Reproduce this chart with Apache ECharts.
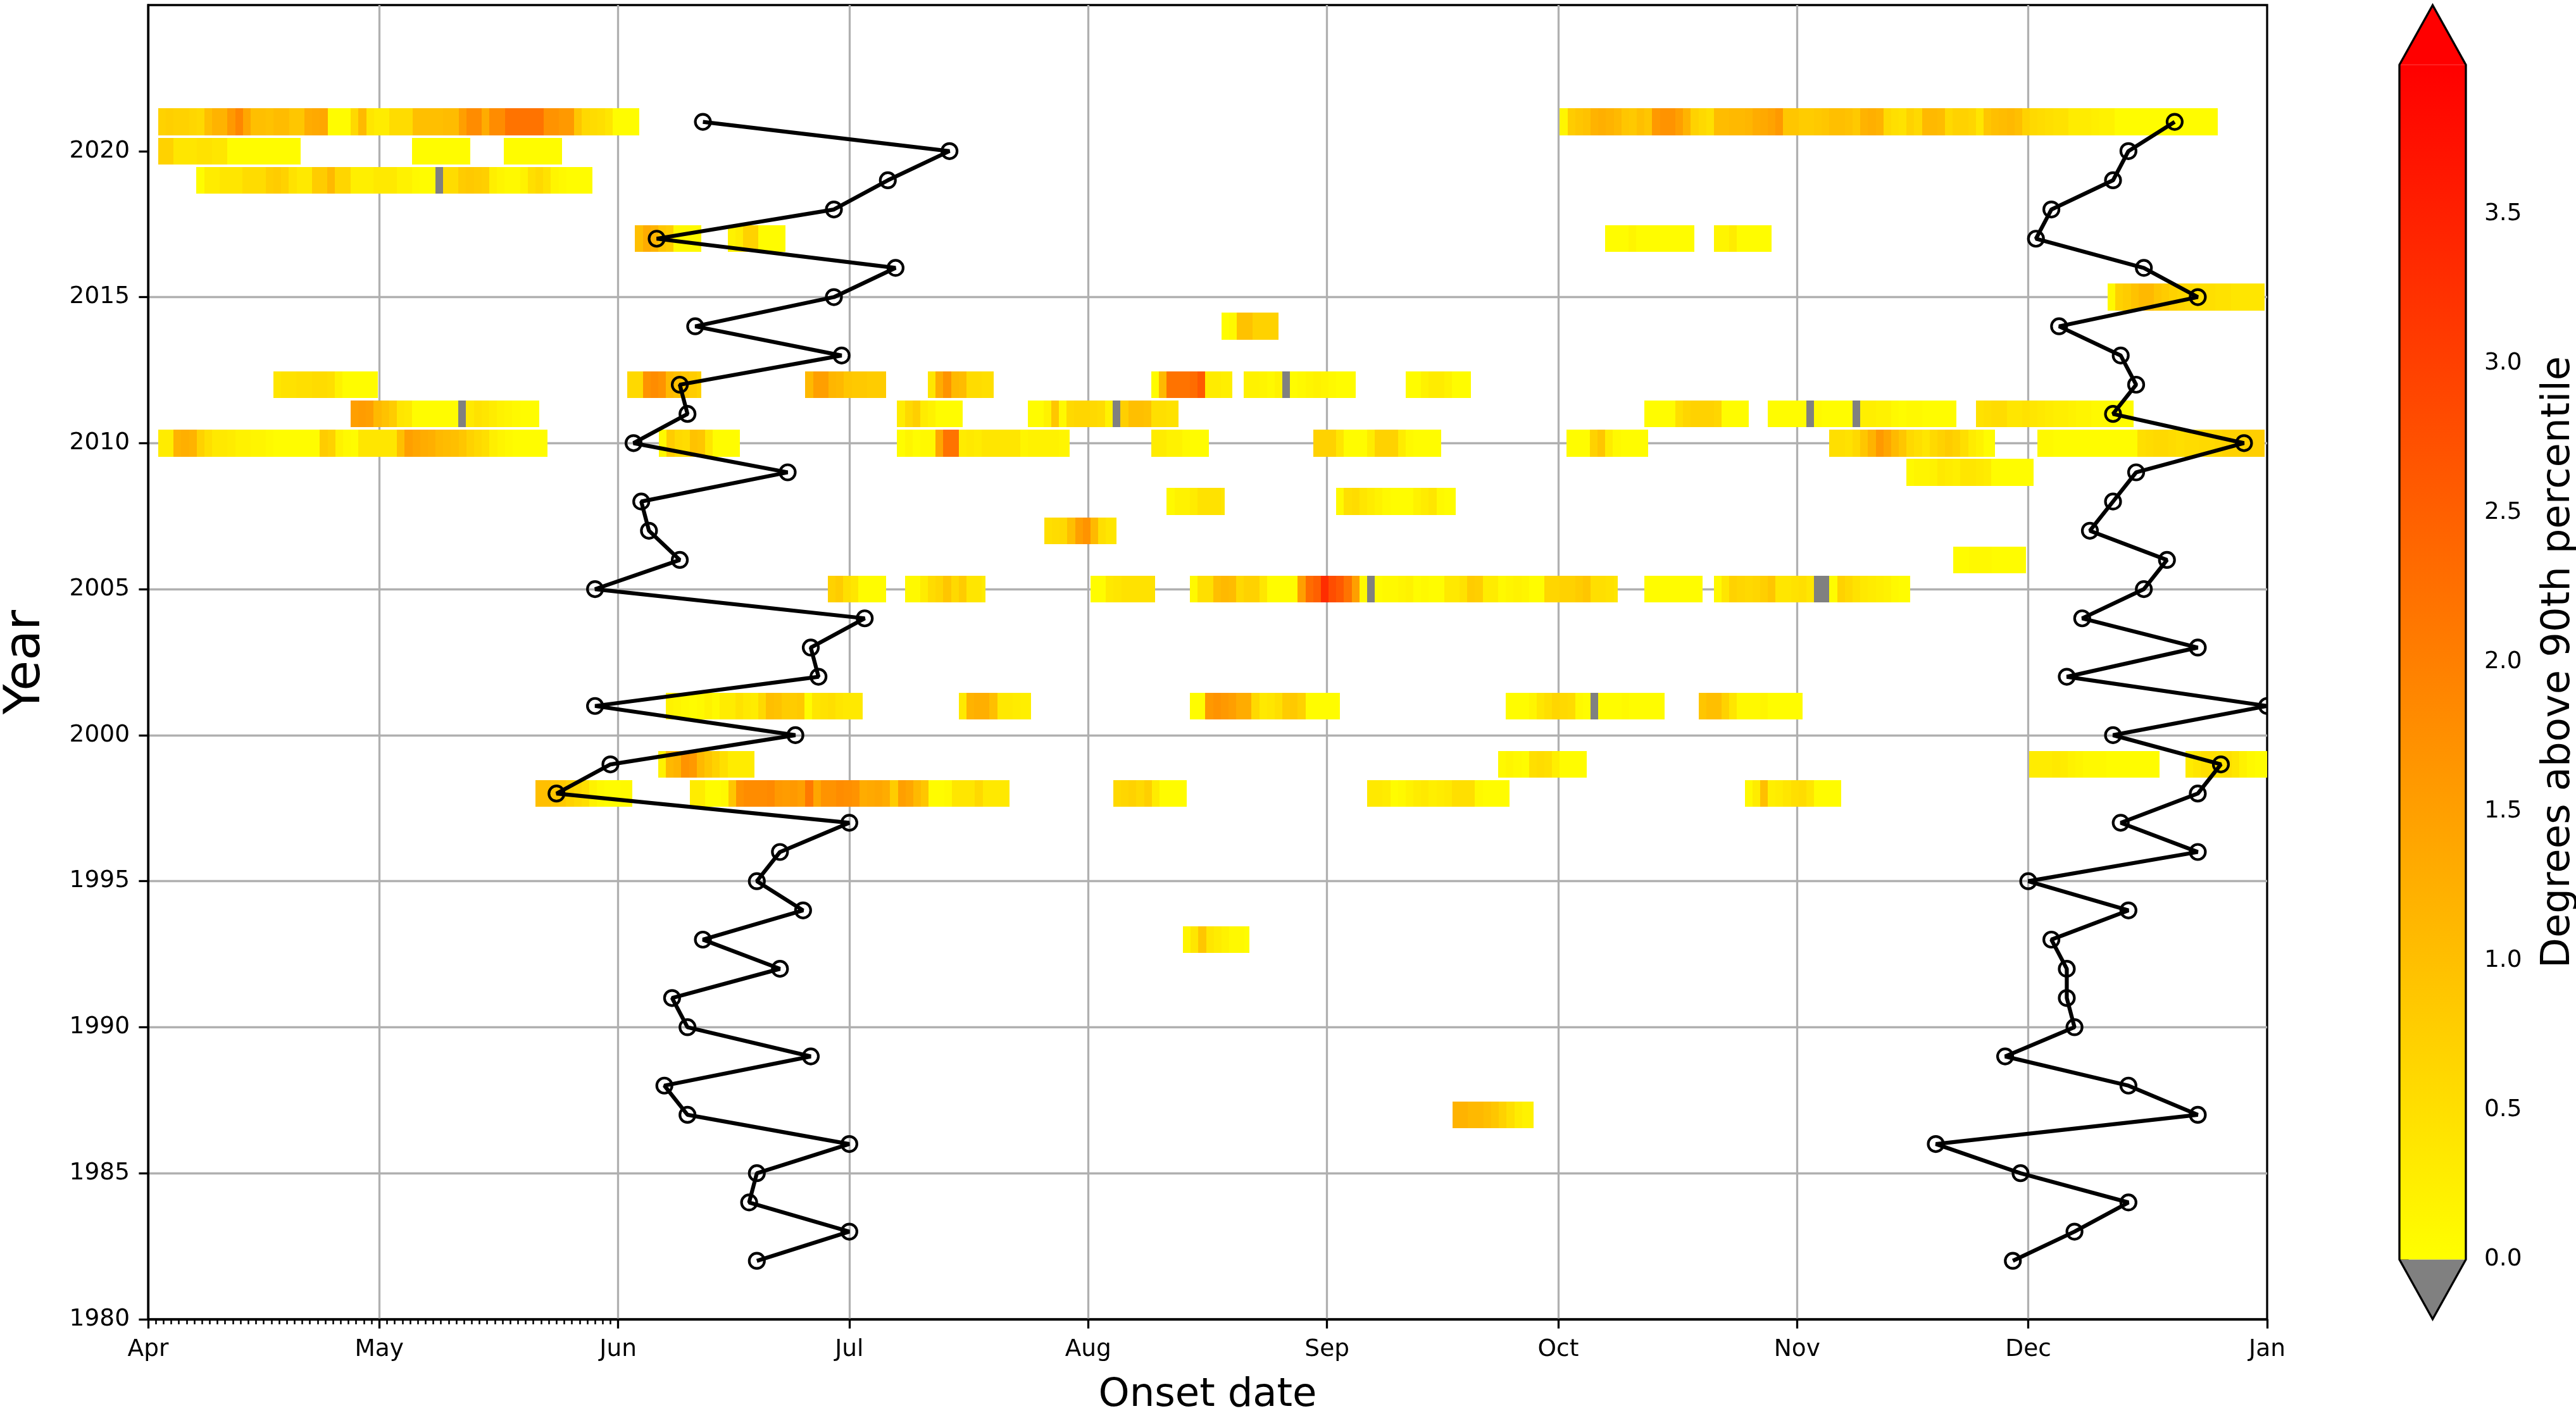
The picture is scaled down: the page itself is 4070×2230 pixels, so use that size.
<!DOCTYPE html>
<html lang="en">
<head>
    <meta charset="UTF-8">
    <title>Onset date</title>
    <script src="https://cdn.jsdelivr.net/npm/echarts@6/dist/echarts.min.js"></script>
    <style>
        html, body { margin: 0; padding: 0; background: #fff; }
    </style>
</head>
<body>
    <div id="main" style="width: 4070px; height: 2230px;"></div>
    <script>
        // x is days since 1 Apr
        const monthDays = [0, 30, 61, 91, 122, 153, 183, 214, 244, 275];
        const monthNames = ['Apr', 'May', 'Jun', 'Jul', 'Aug', 'Sep', 'Oct', 'Nov', 'Dec', 'Jan'];
        const yearTicks = [1980, 1985, 1990, 1995, 2000, 2005, 2010, 2015, 2020];
        const barTicks = [0, 0.5, 1, 1.5, 2, 2.5, 3, 3.5];

        const onsetYears = [2021, 2020, 2019, 2018, 2017, 2016, 2015, 2014, 2013, 2012, 2011, 2010, 2009, 2008, 2007, 2006, 2005, 2004, 2003, 2002, 2001, 2000, 1999, 1998, 1997, 1996, 1995, 1994, 1993, 1992, 1991, 1990, 1989, 1988, 1987, 1986, 1985, 1984, 1983, 1982];
        const firstOnset = [72, 104, 96, 89, 66, 97, 89, 71, 90, 69, 70, 63, 83, 64, 65, 69, 58, 93, 86, 87, 58, 84, 60, 53, 91, 82, 79, 85, 72, 82, 68, 70, 86, 67, 70, 91, 79, 78, 91, 79];
        const lastOnset = [263, 257, 255, 247, 245, 259, 266, 248, 256, 258, 255, 272, 258, 255, 252, 262, 259, 251, 266, 249, 275, 255, 269, 266, 256, 266, 244, 257, 247, 249, 249, 250, 241, 257, 266, 232, 243, 257, 250, 242];

        // heat events: one row per event. -1 = below 0 (drawn grey)
        const eventYears = [
            2021, 2021, 2020, 2020, 2020, 2019,
            2017, 2017, 2017, 2017, 2015, 2014,
            2012, 2012, 2012, 2012, 2012, 2012, 2012,
            2011, 2011, 2011, 2011, 2011, 2011,
            2010, 2010, 2010, 2010, 2010, 2010, 2010, 2010,
            2009, 2008, 2008, 2007, 2006,
            2005, 2005, 2005, 2005, 2005, 2005,
            2001, 2001, 2001, 2001, 2001,
            1999, 1999, 1999, 1999,
            1998, 1998, 1998, 1998, 1998,
            1993, 1987
        ];
        const eventStarts = [
            1.3, 183.2, 1.3, 34.25, 46.2, 6.27,
            63.2, 75.2, 189.1, 203.2, 254.3, 139.3,
            16.25, 62.2, 85.3, 101.2, 130.2, 142.2, 163.2,
            26.27, 97.2, 114.2, 194.2, 210.2, 237.2,
            1.3, 66.3, 97.2, 130.2, 151.2, 184.1, 218.2, 245.2,
            228.2, 132.2, 154.2, 116.3, 234.3,
            88.2, 98.2, 122.3, 135.2, 194.15, 203.2,
            67.2, 105.2, 135.2, 176.2, 201.2,
            66.2, 175.2, 244.1, 264.4,
            50.25, 70.3, 125.25, 158.2, 207.2,
            134.3, 169.3
        ];
        const eventEnds = [
            63.7, 268.6, 19.8, 41.8, 53.7, 57.7,
            71.75, 82.75, 200.7, 210.7, 274.7, 146.7,
            29.8, 71.75, 95.75, 109.75, 140.7, 156.7, 171.7,
            50.8, 105.75, 133.7, 207.7, 234.7, 257.7,
            51.8, 76.8, 119.6, 137.7, 167.8, 194.7, 239.7, 274.7,
            244.7, 139.7, 169.7, 125.7, 243.7,
            95.75, 108.7, 130.7, 190.7, 201.7, 228.7,
            92.7, 114.6, 154.7, 196.8, 214.7,
            78.7, 186.7, 261, 275,
            62.8, 111.75, 134.8, 176.7, 219.7,
            142.9, 179.8
        ];
        const eventValues = [
            // 2021
            [.7, .75, .7, .7, .65, .6, 1, 1.2, 1.2, 1.6, 1.9, 1.4, 1, 1, .95, 1.05, 1.05, .9, .9, 1.3, 1.35, 1.4, .05, .05, .05, .6, 1.1, .4, .3, .3, .55, .55, .55, 1, 1, 1, 1, 1.05, 1.05, 1.5, 1.8, 1.8, 1.3, 1.8, 1.8, 2.2, 2.2, 2.2, 2.2, 2.2, 1.7, 1.7, 1.6, 1.6, .9, .6, .55, .5, .4, .05, .05, .05],
            [.15, .8, .9, .95, 1.2, 1.25, 1.2, 1.1, .9, .85, 1, .9, 1.6, 1.7, 1.7, 1.5, 1.2, .7, .6, .5, 1.05, 1.05, 1.1, 1.1, 1.15, 1.3, 1.35, 1.45, 1.6, .9, .9, .8, .8, .85, .9, 1, 1, .95, .85, 1.2, 1.25, 1.2, .6, .5, .45, .7, .6, 1.1, 1.1, 1.05, .6, .7, .7, .65, .4, .9, 1, 1.05, 1.1, 1, .7, .6, .55, .5, .45, .45, .3, .3, .3, .25, .2, .2, .05, .05, .05, .05, .05, .05, .05, .05, .05, .05, .05, .05, .05],
            // 2020
            [.7, .7, .4, .4, .4, .45, .45, .4, .4, .05, .05, .05, .05, .05, .05, .05, .05, .05],
            [.05, .05, .05, .05, .05, .05, .05, .05],
            [.05, .05, .05, .05, .05, .05, .05, .05],
            // 2019
            [.05, .3, .3, .4, .4, .4, .55, .55, .55, .75, .8, .7, .45, .35, .35, .8, .8, 1.1, .65, .65, .25, .25, .25, .35, .35, .35, .2, .2, .1, .05, .05, -1, .55, .55, .8, .85, .8, .75, .25, .15, .1, .1, .2, .5, .6, .45, .15, .1, .05, .05, .05],
            // 2017
            [1, 1.3, 1.2, .9, .8, .1, .1, .1, .1],
            [.2, .3, .7, .7, .05, .05, .05, .05],
            [.05, .05, .05, .15, .05, .05, .05, .05, .05, .05, .05, .05],
            [.15, .15, .3, .05, .05, .05, .05, .05],
            // 2015
            [.1, .7, .8, .95, 1.1, 1.1, .9, .8, .7, .65, .6, .55, .5, .5, .45, .45, .4, .4, .4, .4],
            // 2014
            [.05, .1, .95, .95, .7, .7, .7, .7],
            // 2012
            [.4, .45, .45, .5, .5, .55, .55, .5, .2, .05, .05, .05, .05, .05],
            [.6, .6, 1.7, 1.8, 1.7, 1.1, 1, .9, .8, .7],
            [1.1, 1.5, 1.5, 1.15, 1.1, .9, .85, .85, .8, .8, .8],
            [.4, 1.3, 1.7, 1.1, 1.05, .55, .55, .5, .5],
            [.05, 1.1, 2.2, 2.2, 2.2, 2.3, 2.6, .3, .3, .25, .25],
            [.2, .2, .15, .1, .2, -1, .05, .1, .15, .2, .15, .1, .05, .05, .05],
            [.05, .05, .2, .3, .3, .2, .05, .05, .05],
            // 2011
            [1.5, 1.55, 1.5, 1.1, .95, .8, .4, .35, .05, .05, .05, .05, .05, .05, -1, .35, .45, .4, .3, .2, .15, .1, .05, .05],
            [.3, .6, .75, .3, .2, .05, .05, .05, .05],
            [.05, .05, .2, .9, .1, .6, .65, .65, .6, .55, .2, -1, .75, 1, 1, .95, .5, .5, .45, .45],
            [.05, .05, .05, .05, .5, .65, .7, .7, .7, .65, .05, .05, .05, .05],
            [.05, .05, .05, .05, .05, -1, .1, .05, .05, .05, .05, -1, .25, .25, .2, .2, .1, .05, .1, .1, .05, .05, .05, .05, .05],
            [.45, .5, .55, .55, .4, .4, .45, .4, .35, .3, .25, .25, .2, .15, .15, .1, .1, .1, .05, .05, .05],
            // 2010
            [.3, .3, 1.2, 1.25, 1.2, .7, .5, .35, .35, .3, .2, .2, .15, .15, .1, .05, .05, .05, .05, .05, .05, .8, .7, .2, .1, .05, .4, .4, .4, .4, .4, 1, 1.5, 1.4, 1.3, 1.25, 1.1, 1.05, 1, .9, .7, .6, .5, .25, .15, .1, .05, .05, .05, .05],
            [.1, .8, .6, .55, .95, .9, .4, .05, .05, .05, .05],
            [.05, .15, .05, .1, .1, 1.4, 2.2, 2.2, .3, .35, .3, .4, .4, .4, .4, .4, .15, .2, .2, .2, .2, .15],
            [.3, .3, .2, .2, .1, .05, .05, .05],
            [.7, .7, .7, .4, .05, .05, .05, .3, .7, .7, .7, .3, .1, .05, .05, .05, .05],
            [.05, .05, .05, .7, .9, .3, .1, .05, .05, .05, .05],
            [.5, .5, .45, .6, .9, 1.2, 1.6, 1.4, 1.1, .9, .6, .5, .4, .6, .7, .8, .7, .5, .3, .2, .05, .05],
            [.1, .1, .05, .05, .05, .05, .05, .05, .05, .05, .05, .05, .05, .5, .55, .6, .6, .55, .5, .55, .55, .6, .6, .65, .7, .7, .7, .75, .75, .8],
            // 2009
            [.1, .15, .15, .2, .35, .3, .25, .4, .4, .35, .3, .05, .05, .05, .05, .05, .05],
            // 2008
            [.1, .2, .2, .3, .45, .45, .45, .4],
            [.1, .5, .55, .4, .3, .2, .1, .05, .05, .05, .2, .3, .4, .1, .05, .05],
            // 2007
            [.5, .55, .6, 1, 1.5, 1.7, 1.1, .5, .4, .4],
            // 2006
            [.05, .05, .1, .1, .1, .05, .05, .05, .05, .05],
            // 2005
            [.7, .8, .5, .4, .05, .05, .05, .05],
            [.1, .1, .3, .55, .65, .9, .6, .8, .4, .4, .3],
            [.05, .05, .35, .4, .45, .45, .45, .45, .45],
            [.1, .5, .5, 1, 1.1, 1.05, .6, .7, .7, .4, .05, .05, .05, .05, 1.5, 2.3, 2.5, 3.3, 2.8, 2.6, 2.2, 1.5, .1, -1, .05, .1, .1, .15, .2, .05, .1, .05, .05, .35, .35, .45, .8, .75, .3, .3, .1, .15, .2, .15, .05, .05, .65, .65, .7, .7, .8, .9, .5, .5, .45, .4],
            [.05, .05, .05, .05, .05, .05, .05, .05],
            [.1, .4, .7, .65, .6, .65, .75, .9, .4, .4, .45, .5, .4, -1, -1, .05, .7, .6, .45, .35, .3, .25, .2, .1, .05, .05],
            // 2001
            [.2, .15, .1, .05, .1, .2, .1, .3, .3, .45, .35, .3, .6, 1, .95, .8, .8, .85, .05, .4, .45, .5, .4, .35, .35, .35],
            [.35, 1.2, 1.25, 1.25, 1, .35, .35, .3, .25, .25],
            [.05, .05, 1.6, 1.7, 1.6, 1.5, 1.3, 1.3, .6, .35, .4, .5, .8, .85, .7, .05, .05, .05, .05, .05],
            [.05, .05, .05, .15, .4, .5, .65, .6, .55, .1, .05, -1, .05, .05, .05, .1, .05, .05, .05, .05, .05],
            [.9, 1, 1, .7, .4, .1, .1, .1, .15, .05, .05, .05, .05, .05],
            // 1999
            [.2, 1.1, 1.2, 1.7, 1.6, 1.1, .9, .7, .5, .3, .3, .3, .3],
            [.1, .15, .1, .05, .5, .55, .5, .25, .05, .05, .05, .05],
            [.3, .3, .3, .35, .3, .2, .15, .1, .1, .1, .05, .05, .05, .05, .05, .05, .05],
            [.3, .4, .5, .5, .45, .5, .4, .2, .1, .05, .05],
            // 1998
            [1, 1, .9, .85, .7, .6, .5, .2, .1, .05, .05, .1, .1],
            [.3, .3, .05, .05, .1, .9, 1.7, 1.8, 1.8, 1.8, 1.85, 1.6, 1.55, 1.6, 1.5, 2.1, 1.4, 1.7, 1.7, 1.8, 1.75, 1.7, 1.3, 1.35, 1.4, 1.3, .8, 1.5, 1.4, 1.1, .9, .05, .05, .1, .4, .4, .4, .6, .35, .35, .35, .35],
            [.6, .65, .7, .6, .75, .3, .05, .05, .05, .05],
            [.35, .35, .3, .05, .1, .2, .3, .35, .25, .3, .35, .5, .5, .5, .1, .05, .05, .05, .05],
            [.1, .3, 1, .25, .3, .4, .5, .55, .4, .05, .05, .05, .05],
            // 1993
            [.15, .4, .9, .4, .3, .2, .1, .1, .05],
            // 1987
            [1.2, 1.2, 1.1, 1.1, 1, .9, .7, .5, .3, .2, .2]
        ];

        // daily minor ticks on the date axis
        const minorDays = [];
        for (let d = 0; d <= 61; d++) minorDays.push(d);

        function heatColor(v) {
            if (v < 0) return '#808080';
            const g = Math.round(255 * (1 - Math.min(v, 4) / 4));
            return 'rgb(255,' + g + ',0)';
        }

        // one cell per day, last one cut at the event end
        const cells = [];
        eventValues.forEach(function (vals, i) {
            vals.forEach(function (v, k) {
                const x0 = eventStarts[i] + k;
                const x1 = k === vals.length - 1 ? eventEnds[i] : x0 + 1;
                cells.push([x0, x1, eventYears[i], v]);
            });
        });

        function renderCell(params, api) {
            const a = api.coord([api.value(0), api.value(2) + 0.46]);
            const b = api.coord([api.value(1), api.value(2) - 0.46]);
            const x = Math.round(a[0]), y = Math.round(a[1]);
            return {
                type: 'rect',
                shape: { x: x, y: y, width: Math.round(b[0]) - x, height: Math.round(b[1]) - y },
                style: { fill: heatColor(api.value(3)) }
            };
        }

        function renderColorbar(params, api) {
            const bl = api.coord([0, 0]), tr = api.coord([1, 4]);
            const topTip = api.coord([0.5, 4.2]), botTip = api.coord([0.5, -0.2]);
            const children = [
                {
                    type: 'polygon',
                    shape: { points: [[bl[0], tr[1]], [topTip[0], topTip[1]], [tr[0], tr[1]]] },
                    style: { fill: '#ff0000' }
                },
                {
                    type: 'polygon',
                    shape: { points: [[bl[0], bl[1]], [botTip[0], botTip[1]], [tr[0], bl[1]]] },
                    style: { fill: '#808080' }
                },
                {
                    type: 'rect',
                    shape: { x: bl[0], y: tr[1], width: tr[0] - bl[0], height: bl[1] - tr[1] },
                    style: {
                        fill: new echarts.graphic.LinearGradient(0, 1, 0, 0, [
                            { offset: 0, color: '#ffff00' },
                            { offset: 1, color: '#ff0000' }
                        ])
                    }
                },
                {
                    type: 'polygon',
                    shape: {
                        points: [[bl[0], bl[1]], [bl[0], tr[1]], [topTip[0], topTip[1]], [tr[0], tr[1]], [tr[0], bl[1]], [botTip[0], botTip[1]]]
                    },
                    style: { fill: 'none', stroke: '#000', lineWidth: 3.3 }
                }
            ];
            return { type: 'group', children: children };
        }

        // open circles, cut at the plot edge like the line
        function renderMarker(params, api) {
            const p = api.coord([api.value(0), api.value(1)]);
            const box = params.coordSys;
            return {
                type: 'circle',
                shape: { cx: p[0], cy: p[1], r: 12 },
                style: { fill: 'none', stroke: '#000', lineWidth: 4.2 },
                clipPath: { type: 'rect', shape: { x: box.x, y: box.y, width: box.width, height: box.height } }
            };
        }

        function onsetLine(values) {
            return {
                type: 'line',
                xAxisIndex: 0,
                yAxisIndex: 0,
                z: 5,
                data: values.map(function (d, i) { return [d, onsetYears[i]]; }),
                symbol: 'none',
                clip: true,
                silent: true,
                lineStyle: { color: '#000', width: 6.25 }
            };
        }

        function onsetMarkers(values) {
            return {
                type: 'custom',
                xAxisIndex: 0,
                yAxisIndex: 0,
                z: 6,
                silent: true,
                renderItem: renderMarker,
                data: values.map(function (d, i) { return [d, onsetYears[i]]; })
            };
        }

        const font = 'DejaVu Sans';
        var myChart = echarts.init(document.getElementById('main'));
        option = {
            animation: false,
            backgroundColor: '#fff',
            grid: [
                { left: 234, top: 8, width: 3348, height: 2077, outerBoundsMode: 'none', show: true, borderColor: '#000', borderWidth: 3.3, backgroundColor: 'transparent' },
                { left: 3791, top: 102.5, width: 105, height: 1888, outerBoundsMode: 'none' }
            ],
            xAxis: [
                {
                    type: 'value', gridIndex: 0, min: 0, max: 275,
                    name: 'Onset date', nameLocation: 'middle', nameGap: 89,
                    nameTextStyle: { fontFamily: font, fontSize: 62.5, color: '#000' },
                    axisLine: { show: true, lineStyle: { color: '#000', width: 3.3 } },
                    axisTick: { show: true, length: 14.6, customValues: monthDays, lineStyle: { color: '#000', width: 3.3 } },
                    axisLabel: {
                        show: true, margin: 29, fontFamily: font, fontSize: 37.5, color: '#000',
                        customValues: monthDays,
                        formatter: function (v) { return monthNames[monthDays.indexOf(v)]; }
                    },
                    splitLine: { show: true, showMinLine: false, showMaxLine: false, lineStyle: { color: '#b0b0b0', width: 3.3 } }
                },
                {
                    // only carries the small daily ticks
                    type: 'value', gridIndex: 0, min: 0, max: 275, position: 'bottom',
                    axisLine: { show: false },
                    axisTick: { show: true, length: 8, customValues: minorDays, lineStyle: { color: '#000', width: 2.5 } },
                    axisLabel: { show: false },
                    splitLine: { show: false }
                },
                { type: 'value', gridIndex: 1, min: 0, max: 1, show: false }
            ],
            yAxis: [
                {
                    type: 'value', gridIndex: 0, min: 1980, max: 2025, interval: 5,
                    name: 'Year', nameLocation: 'middle', nameGap: 153, nameRotate: 90,
                    nameTextStyle: { fontFamily: font, fontSize: 78, color: '#000' },
                    axisLine: { show: true, lineStyle: { color: '#000', width: 3.3 } },
                    axisTick: { show: true, length: 14.6, customValues: yearTicks, lineStyle: { color: '#000', width: 3.3 } },
                    axisLabel: {
                        show: true, margin: 29, fontFamily: font, fontSize: 37.5, color: '#000',
                        customValues: yearTicks,
                        formatter: function (v) { return String(v); }
                    },
                    splitLine: { show: true, showMinLine: false, showMaxLine: false, lineStyle: { color: '#b0b0b0', width: 3.3 } }
                },
                {
                    type: 'value', gridIndex: 1, min: 0, max: 4, position: 'right',
                    name: 'Degrees above 90th percentile', nameLocation: 'middle', nameGap: 115, nameRotate: 90,
                    nameTextStyle: { fontFamily: font, fontSize: 62.5, color: '#000' },
                    axisLine: { show: false },
                    axisTick: { show: true, length: 14.6, customValues: barTicks, lineStyle: { color: '#000', width: 3.3 } },
                    axisLabel: {
                        show: true, margin: 29, fontFamily: font, fontSize: 37.5, color: '#000',
                        customValues: barTicks,
                        formatter: function (v) { return v.toFixed(1); }
                    },
                    splitLine: { show: false }
                }
            ],
            series: [
                {
                    type: 'custom', xAxisIndex: 0, yAxisIndex: 0, z: 3, silent: true,
                    renderItem: renderCell,
                    encode: { x: [0, 1], y: 2 },
                    data: cells
                },
                onsetLine(firstOnset),
                onsetLine(lastOnset),
                onsetMarkers(firstOnset),
                onsetMarkers(lastOnset),
                {
                    type: 'custom', xAxisIndex: 2, yAxisIndex: 1, z: 3, silent: true,
                    renderItem: renderColorbar,
                    data: [[0, 0]]
                }
            ]
        };
        myChart.setOption(option);
    </script>
</body>
</html>
